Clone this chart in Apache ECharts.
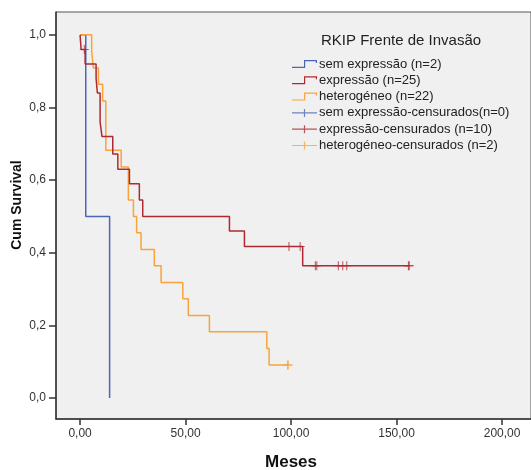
<!DOCTYPE html>
<html>
<head>
<meta charset="utf-8">
<script src="https://cdn.jsdelivr.net/npm/echarts@6/dist/echarts.min.js"></script>
<style>
  html, body { margin: 0; padding: 0; background: #fff; }
  #root { width: 531px; height: 470px; }
</style>
</head>
<body>
<div id="root"></div>
<script>
// Kaplan-Meier steps (months, cumulative survival)
var semTimes = [0, 2.7, 14];
var semSurv = [1, 0.5, 0];

var expTimes = [0, 0.5, 2.4, 7.6, 8.2, 9.5, 10.4, 15.5, 17.9, 23.4, 28.1, 29.7, 70.8, 77.9, 105.5, 156];
var expSurv = [1, 0.96, 0.92, 0.88, 0.84, 0.76, 0.72, 0.672, 0.63, 0.59, 0.545, 0.5, 0.46, 0.417, 0.364, 0.364];

var hetTimes = [0, 5.5, 6.3, 8.7, 10.7, 12.2, 19.5, 22.9, 25.3, 26.8, 28.9, 35.2, 38.4, 48.7, 51.3, 61.3, 88.5, 89.6, 98.7];
var hetSurv = [1, 0.955, 0.909, 0.864, 0.818, 0.682, 0.636, 0.545, 0.5, 0.455, 0.409, 0.364, 0.318, 0.273, 0.227, 0.182, 0.136, 0.091, 0.091];

// censored observations
var expCensTimes = [2.0, 99, 104.3, 111.5, 112.2, 122.4, 124.5, 126.4, 155.6, 156];
var expCensSurv = [0.96, 0.417, 0.417, 0.364, 0.364, 0.364, 0.364, 0.364, 0.364, 0.364];
var hetCensTimes = [98.3, 98.7];
var hetCensSurv = [0.091, 0.091];

var xTicks = [0, 50, 100, 150, 200];
var yTicks = [0, 0.2, 0.4, 0.6, 0.8, 1.0];

var seriesNames = [
    'sem expressão (n=2)',
    'expressão (n=25)',
    'heterogéneo (n=22)',
    'sem expressão-censurados(n=0)',
    'expressão-censurados (n=10)',
    'heterogéneo-censurados (n=2)'
];

var blue = '#4a66b8';
var red = '#ad2a33';
var orange = '#f8a43a';

function pairs(xs, ys) {
    return xs.map(function (x, i) { return [x, ys[i]]; });
}

var stepIcon = 'path://M0,6.8H12V0H25V3H23.8V1.2H13.2V8H0Z';
var crossIcon = 'path://M0,3.4H11.9V0H13.1V3.4H25V4.6H13.1V8H11.9V4.6H0Z';
var censMark = 'path://M4,0h1v9h-1zM0,4h9v1h-9z';

var font = '"Liberation Sans", Arial, sans-serif';

var root = document.getElementById('root');
var myCharts = echarts.init(root);

var option = {
    backgroundColor: '#ffffff',
    animation: false,
    title: {
        text: 'RKIP Frente de Invasão',
        left: 321,
        top: 33,
        padding: 0,
        textStyle: { fontSize: 15, fontWeight: 'normal', color: '#222', fontFamily: font }
    },
    legend: {
        orient: 'vertical',
        left: 292,
        top: 57,
        padding: 0,
        itemWidth: 25,
        itemHeight: 8,
        itemGap: 2.3,
        selectedMode: false,
        textStyle: { fontSize: 13, color: '#222', fontFamily: font, lineHeight: 14, padding: [0, 0, 0, -3] },
        data: [
            { name: seriesNames[0], icon: stepIcon },
            { name: seriesNames[1], icon: stepIcon },
            { name: seriesNames[2], icon: stepIcon },
            { name: seriesNames[3], icon: crossIcon },
            { name: seriesNames[4], icon: crossIcon },
            { name: seriesNames[5], icon: crossIcon }
        ]
    },
    grid: {
        left: 56,
        top: 12,
        right: 0,
        bottom: 51,
        show: true,
        backgroundColor: '#f0f0f0',
        borderColor: '#555',
        borderWidth: 1
    },
    xAxis: {
        type: 'value',
        min: -11.4,
        max: 213.7,
        axisLine: { show: true, onZero: false, lineStyle: { color: '#333', width: 1.5 } },
        axisTick: { show: true, length: 6, customValues: xTicks, lineStyle: { color: '#333', width: 1.5 } },
        axisLabel: {
            customValues: xTicks,
            margin: 9,
            fontSize: 12,
            color: '#333',
            fontFamily: font,
            formatter: function (v) { return v.toFixed(2).replace('.', ','); }
        },
        splitLine: { show: false }
    },
    yAxis: {
        type: 'value',
        min: -0.058,
        max: 1.063,
        axisLine: { show: true, onZero: false, lineStyle: { color: '#333', width: 1.5 } },
        axisTick: { show: true, length: 7, customValues: yTicks, lineStyle: { color: '#333', width: 1.5 } },
        axisLabel: {
            customValues: yTicks,
            margin: 10,
            fontSize: 12,
            color: '#333',
            fontFamily: font,
            formatter: function (v) { return v.toFixed(1).replace('.', ','); }
        },
        splitLine: { show: false }
    },
    graphic: [
        {
            type: 'text',
            x: 17,
            y: 205,
            rotation: Math.PI / 2,
            style: {
                text: 'Cum Survival',
                font: 'bold 14px ' + font,
                fill: '#111',
                textAlign: 'center',
                textVerticalAlign: 'middle'
            }
        },
        {
            type: 'text',
            x: 291,
            y: 462,
            style: {
                text: 'Meses',
                font: 'bold 17px ' + font,
                fill: '#111',
                textAlign: 'center',
                textVerticalAlign: 'middle'
            }
        }
    ],
    series: [
        {
            name: seriesNames[0],
            type: 'line',
            step: 'end',
            symbol: 'none',
            color: blue,
            lineStyle: { color: blue, width: 1.5 },
            data: pairs(semTimes, semSurv)
        },
        {
            name: seriesNames[2],
            type: 'line',
            step: 'end',
            symbol: 'none',
            color: orange,
            lineStyle: { color: orange, width: 1.5 },
            data: pairs(hetTimes, hetSurv)
        },
        {
            name: seriesNames[1],
            type: 'line',
            step: 'end',
            symbol: 'none',
            color: red,
            lineStyle: { color: red, width: 1.5 },
            data: pairs(expTimes, expSurv)
        },
        {
            name: seriesNames[3],
            type: 'scatter',
            color: blue,
            symbol: censMark,
            symbolSize: 9,
            data: []
        },
        {
            name: seriesNames[4],
            type: 'scatter',
            color: red,
            symbol: censMark,
            symbolSize: 9,
            data: pairs(expCensTimes, expCensSurv)
        },
        {
            name: seriesNames[5],
            type: 'scatter',
            color: orange,
            symbol: censMark,
            symbolSize: 9,
            data: pairs(hetCensTimes, hetCensSurv)
        }
    ]
};
myCharts.setOption(option);
</script>
</body>
</html>
